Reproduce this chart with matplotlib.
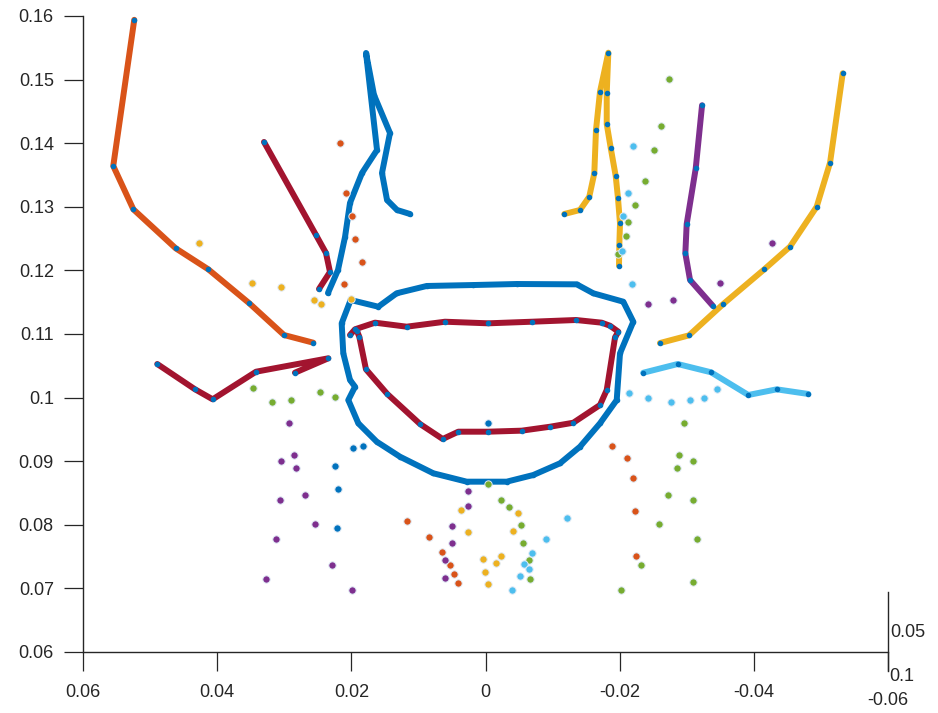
import numpy as np
import matplotlib
matplotlib.use("Agg")
import matplotlib.pyplot as plt
import matplotlib.transforms as mtransforms
from matplotlib.lines import Line2D

plt.rcParams['font.family'] = ['Liberation Sans', 'DejaVu Sans']

# matlab default colour order
C_BLUE = '#0072BD'
C_ORANGE = '#D95319'
C_YELLOW = '#EDB120'
C_PURPLE = '#7E2F8E'
C_GREEN = '#77AC30'
C_LBLUE = '#4DBEEE'
C_RED = '#A2142F'

# ---- contour lines (x, y) ----
orange_x = [0.05236, 0.05549, 0.05250, 0.04618, 0.04132, 0.03521, 0.03004, 0.02567]
orange_y = [0.15940, 0.13642, 0.12961, 0.12347, 0.12017, 0.11483, 0.10984, 0.10863]

red_top_x = [0.03302, 0.02527, 0.02378, 0.02318, 0.02482]
red_top_y = [0.14019, 0.12557, 0.12274, 0.11975, 0.11708]

red_low_x = [0.04893, 0.04331, 0.04067, 0.03421, 0.02343, 0.02840]
red_low_y = [0.10528, 0.10131, 0.09973, 0.10407, 0.10618, 0.10392]

blue_top_x = [0.01126, 0.01319, 0.01468, 0.01543, 0.01424, 0.01662, 0.01781,
              0.01617, 0.01841, 0.02020, 0.02094, 0.02199, 0.02348]
blue_top_y = [0.12887, 0.12950, 0.13107, 0.13531, 0.14160, 0.14758, 0.15418,
              0.13893, 0.13531, 0.13060, 0.12525, 0.12006, 0.11645]

blue_loop_x = [0.02010, 0.01598, 0.01324, 0.00877, 0.00182, -0.00465, -0.01360,
               -0.01607, -0.02054, -0.02203, -0.02005, -0.01956, -0.01707, -0.01409,
               -0.01111, -0.00713, -0.00316, 0.00280, 0.00778, 0.01275, 0.01622,
               0.01896, 0.02045, 0.01945, 0.02020, 0.02120, 0.02144, 0.02010]
blue_loop_y = [0.11535, 0.11429, 0.11640, 0.11755, 0.11770, 0.11786, 0.11781,
               0.11640, 0.11508, 0.11193, 0.10696, 0.09962, 0.09596, 0.09228,
               0.08967, 0.08783, 0.08678, 0.08678, 0.08810, 0.09071, 0.09307,
               0.09596, 0.09962, 0.10171, 0.10277, 0.10696, 0.11168, 0.11535]

red_loop_x = [0.02020, 0.01945, 0.01647, 0.01175, 0.00604, -0.00042, -0.00689,
              -0.01349, -0.01732, -0.01856, -0.01980, -0.01931, -0.01807, -0.01707,
              -0.01309, -0.00962, -0.00540, -0.00042, 0.00405, 0.00638, 0.00976,
              0.01464, 0.01782, 0.01881, 0.01916]
red_loop_y = [0.10984, 0.11074, 0.11178, 0.11115, 0.11193, 0.11168, 0.11193,
              0.11220, 0.11178, 0.11130, 0.11036, 0.10948, 0.10119, 0.09884,
              0.09605, 0.09542, 0.09480, 0.09464, 0.09464, 0.09349, 0.09585,
              0.10057, 0.10445, 0.10957, 0.11047]

yellow_mid_x = [-0.01175, -0.01409, -0.01547, -0.01622, -0.01647, -0.01707, -0.01831,
                -0.01807, -0.01807, -0.01866, -0.01941, -0.01975, -0.02005, -0.01995, -0.01990]
yellow_mid_y = [0.12887, 0.12950, 0.13159, 0.13527, 0.14207, 0.14810, 0.15423,
                0.14784, 0.14302, 0.13929, 0.13484, 0.13134, 0.12740, 0.12399, 0.12074]

purple_x = [-0.03228, -0.03134, -0.02999, -0.02979, -0.03049, -0.03387]
purple_y = [0.14596, 0.13605, 0.12729, 0.12269, 0.11849, 0.11445]

yellow_right_x = [-0.05325, -0.05136, -0.04937, -0.04539, -0.04156, -0.03545, -0.03034, -0.02601]
yellow_right_y = [0.15099, 0.13693, 0.13001, 0.12373, 0.12017, 0.11472, 0.10979, 0.10858]

lblue_x = [-0.02352, -0.02865, -0.03362, -0.03918, -0.04341, -0.04812]
lblue_y = [0.10391, 0.10528, 0.10398, 0.10041, 0.10130, 0.10057]

# ---- landmark points ----
pts_orange_x = [0.02169, 0.02084, 0.01986, 0.01945, 0.01846, 0.02114,
                0.01166, 0.00847, 0.00644, 0.00529, 0.00470, 0.00414,
                -0.01881, -0.02105, -0.02203, -0.02229, -0.02244]
pts_orange_y = [0.14008, 0.13222, 0.12855, 0.12494, 0.12137, 0.11781,
                0.08064, 0.07813, 0.07568, 0.07373, 0.07226, 0.07090,
                0.09239, 0.09046, 0.08736, 0.08217, 0.07505]

pts_yellow_x = [0.04267, 0.03481, 0.03049, 0.02552, 0.02448, 0.02010,
                0.00370, 0.00256, 0.00042, 0.00007, -0.00030, -0.00227, -0.00161,
                -0.00403, -0.00480]
pts_yellow_y = [0.12436, 0.11797, 0.11734, 0.11535, 0.11472, 0.11546,
                0.08233, 0.07887, 0.07458, 0.07253, 0.07077, 0.07514, 0.07395,
                0.07898, 0.08189]

pts_purple_x = [0.02925, 0.02859, 0.03053, 0.02825, 0.03068, 0.02686, 0.02546,
                0.03119, 0.02284, 0.03268, 0.01990,
                0.00256, 0.00261, 0.00495, 0.00499, 0.00604, 0.00608,
                -0.04271, -0.03496, -0.02795, -0.02415]
pts_purple_y = [0.09605, 0.09102, 0.09003, 0.08898, 0.08390, 0.08469, 0.08013,
                0.07777, 0.07373, 0.07153, 0.06975,
                0.08536, 0.08296, 0.07986, 0.07719, 0.07454, 0.07156,
                0.12436, 0.11807, 0.11535, 0.11476]

pts_green_x = [0.03459, 0.03178, 0.02903, 0.02464, 0.02239,
               -0.00030, -0.00236, -0.00346, -0.00525, -0.00562, -0.00653, -0.00668,
               -0.02955, -0.02889, -0.03089, -0.02859, -0.02716, -0.03098, -0.02582,
               -0.03149, -0.02318, -0.03089, -0.02024,
               -0.02736, -0.02621, -0.02512, -0.02378, -0.02229, -0.02129, -0.02099, -0.01971]
pts_green_y = [0.10151, 0.09926, 0.09962, 0.10088, 0.10002,
               0.08637, 0.08385, 0.08275, 0.07989, 0.07709, 0.07447, 0.07151,
               0.09605, 0.09097, 0.09003, 0.08893, 0.08469, 0.08390, 0.08013,
               0.07772, 0.07373, 0.07105, 0.06970,
               0.15009, 0.14270, 0.13888, 0.13410, 0.13028, 0.12766, 0.12541, 0.12253]

pts_lblue_x = [-0.02203, -0.02129, -0.02054, -0.02039, -0.02188,
               -0.02144, -0.02422, -0.02770, -0.03044, -0.03253, -0.03447,
               -0.01215, -0.00909, -0.00690, -0.00581, -0.00641, -0.00514, -0.00388]
pts_lblue_y = [0.13956, 0.13222, 0.12855, 0.12305, 0.11781,
               0.10068, 0.09998, 0.09935, 0.09962, 0.09994, 0.10140,
               0.08102, 0.07777, 0.07561, 0.07384, 0.07308, 0.07198, 0.06967]

pts_blue_x = [0.01975, 0.01831, 0.02239, 0.02194, 0.02218, -0.00042]
pts_blue_y = [0.09203, 0.09239, 0.08920, 0.08568, 0.07954, 0.09596]

xticks = [0.06, 0.04, 0.02, 0, -0.02, -0.04, -0.06]
xtick_labels = ['0.06', '0.04', '0.02', '0', '-0.02', '-0.04', '-0.06']
yticks = [0.06, 0.07, 0.08, 0.09, 0.1, 0.11, 0.12, 0.13, 0.14, 0.15, 0.16]
ytick_labels = ['0.06', '0.07', '0.08', '0.09', '0.1', '0.11', '0.12', '0.13', '0.14', '0.15', '0.16']

fig = plt.figure(figsize=(9.38, 7.13), dpi=100)
ax = fig.add_axes([83 / 938, 61 / 713, 805 / 938, 636 / 713])

lines = [
    (orange_x, orange_y, C_ORANGE),
    (red_top_x, red_top_y, C_RED),
    (red_low_x, red_low_y, C_RED),
    (blue_top_x, blue_top_y, C_BLUE),
    (blue_loop_x, blue_loop_y, C_BLUE),
    (red_loop_x, red_loop_y, C_RED),
    (yellow_mid_x, yellow_mid_y, C_YELLOW),
    (purple_x, purple_y, C_PURPLE),
    (yellow_right_x, yellow_right_y, C_YELLOW),
    (lblue_x, lblue_y, C_LBLUE),
]
for lx, ly, c in lines:
    ax.plot(lx, ly, '-', color=c, lw=4.3, solid_joinstyle='round',
            solid_capstyle='round', zorder=2)
    ax.plot(lx, ly, '.', color=C_BLUE, ms=6, zorder=3)

dots = [
    (pts_blue_x, pts_blue_y, C_BLUE),
    (pts_orange_x, pts_orange_y, C_ORANGE),
    (pts_yellow_x, pts_yellow_y, C_YELLOW),
    (pts_purple_x, pts_purple_y, C_PURPLE),
    (pts_green_x, pts_green_y, C_GREEN),
    (pts_lblue_x, pts_lblue_y, C_LBLUE),
]
for px, py, c in dots:
    ax.scatter(px, py, s=28, color=c, edgecolors='#dfeaf5', linewidths=0.7, zorder=4)

ax.set_xlim(0.06, -0.06)
ax.set_ylim(0.06, 0.16)
ax.set_xticks(xticks)
ax.set_xticklabels(xtick_labels)
ax.set_yticks(yticks)
ax.set_yticklabels(ytick_labels)

for s in ['top', 'right']:
    ax.spines[s].set_visible(False)
for s in ['left', 'bottom']:
    ax.spines[s].set_color('#262626')
    ax.spines[s].set_linewidth(1.0)
ax.tick_params(axis='both', direction='out', length=14, width=0.9, color='#262626',
               labelsize=13, labelcolor='#262626')
ax.tick_params(axis='x', pad=9)
ax.tick_params(axis='y', pad=7)

# last x label sits a bit lower (3-D view), like the original
lab = ax.get_xticklabels()[-1]
lab.set_transform(lab.get_transform() +
                  mtransforms.ScaledTranslation(0, -8 / 100, fig.dpi_scale_trans))

# little z axis stub at the right end
ax.add_line(Line2D([1.0, 1.0], [-0.03, 0.094], transform=ax.transAxes, color='#262626',
                   lw=1.0, clip_on=False))
ax.text(1.003, 0.031, '0.05', transform=ax.transAxes, fontsize=13, color='#262626',
        ha='left', va='center')
ax.text(1.002, -0.039, '0.1', transform=ax.transAxes, fontsize=13, color='#262626',
        ha='left', va='center')

fig.savefig('out.png', dpi=100, facecolor='white')
